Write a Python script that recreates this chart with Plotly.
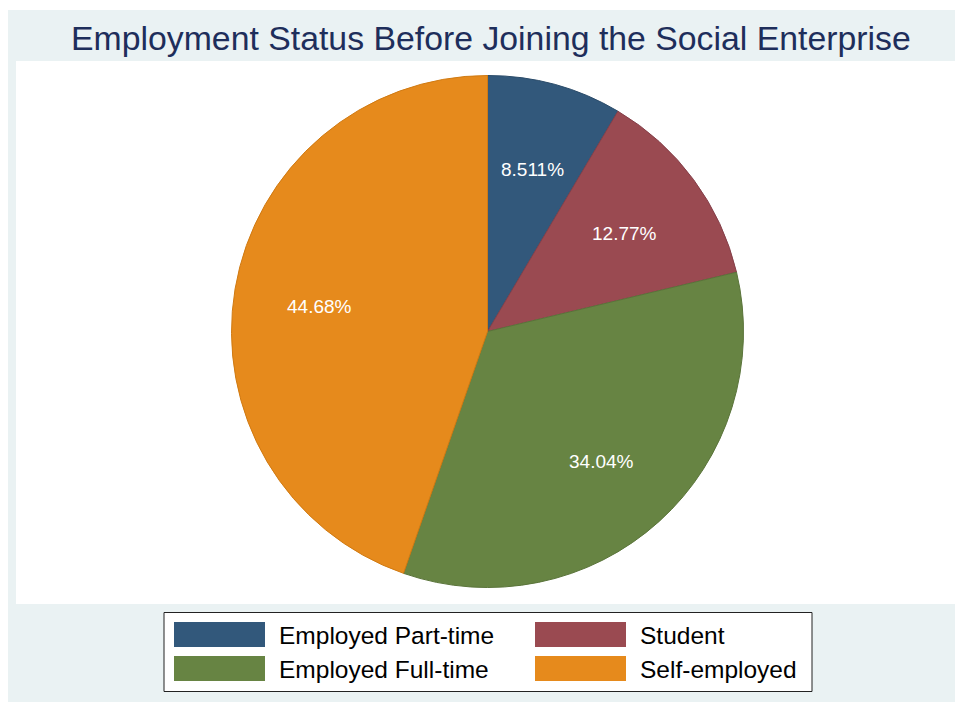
import math
import plotly.graph_objects as go

# Employment status shares (%) before joining the social enterprise
categories = ["Employed Part-time", "Student", "Employed Full-time", "Self-employed"]
shares = [8.511, 12.77, 34.04, 44.68]
colors = ["#32587B", "#9A4A51", "#678443", "#E68A1C"]
outline = ["#2A4B69", "#85404A", "#5A743A", "#D07A12"]

W, H = 955, 702
FONT = "Liberation Sans, Arial, sans-serif"


def px(x):
    return x / W


def py(y):
    return 1 - y / H


fig = go.Figure()

# pie centred at (487.5, 331.5) px with radius 256 px
cx, cy, r = 487.5, 331.5, 256
fig.add_trace(go.Pie(
    labels=categories,
    values=shares,
    sort=False,
    direction="clockwise",
    rotation=0,
    marker=dict(colors=colors, line=dict(color=outline, width=1)),
    textinfo="none",
    hoverinfo="label+value",
    showlegend=False,
    domain=dict(x=[px(cx - r), px(cx + r)], y=[py(cy + r), py(cy - r)]),
))

shapes = [
    # outer graph region
    dict(type="rect", xref="paper", yref="paper", x0=px(8), x1=px(956), y0=py(703), y1=py(10),
         fillcolor="#EAF2F3", line=dict(width=0), layer="below"),
    # plot region
    dict(type="rect", xref="paper", yref="paper", x0=px(16), x1=px(956), y0=py(604), y1=py(61),
         fillcolor="white", line=dict(width=0), layer="below"),
    # legend box
    dict(type="rect", xref="paper", yref="paper", x0=px(164), x1=px(812), y0=py(691.5), y1=py(612.5),
         fillcolor="white", line=dict(color="#222222", width=1), layer="below"),
]

annotations = [
    dict(text="Employment Status Before Joining the Social Enterprise",
         x=px(491), y=py(38), xref="paper", yref="paper", xanchor="center", yanchor="middle",
         showarrow=False, font=dict(family=FONT, size=33.8, color="#1E2E5B")),
]

# slice labels at two thirds of the radius, on each slice's mid-angle
total = sum(shares)
cum = 0.0
for v in shares:
    mid = (cum + v / 2) / total * 2 * math.pi
    cum += v
    lx = cx + r * 2 / 3 * math.sin(mid)
    ly = cy - r * 2 / 3 * math.cos(mid) + 3
    annotations.append(dict(text=f"{v}%", x=px(lx), y=py(ly), xref="paper", yref="paper",
                            xanchor="center", yanchor="middle", showarrow=False,
                            font=dict(family=FONT, size=19, color="white")))

# two-column legend
col_x = [174, 535]
row_y = [622, 656]
for i, (name, col) in enumerate(zip(categories, colors)):
    x0 = col_x[i % 2]
    y0 = row_y[i // 2]
    shapes.append(dict(type="rect", xref="paper", yref="paper",
                       x0=px(x0), x1=px(x0 + 91), y0=py(y0 + 25), y1=py(y0),
                       fillcolor=col, line=dict(width=0)))
    annotations.append(dict(text=name, x=px(x0 + 103), y=py(y0 + 13.5), xref="paper", yref="paper",
                            xanchor="left", yanchor="middle", showarrow=False,
                            font=dict(family=FONT, size=24.5, color="black")))

fig.update_layout(
    width=W, height=H,
    margin=dict(l=0, r=0, t=0, b=0),
    paper_bgcolor="white",
    plot_bgcolor="white",
    shapes=shapes,
    annotations=annotations,
)

fig.write_html("out.html")
